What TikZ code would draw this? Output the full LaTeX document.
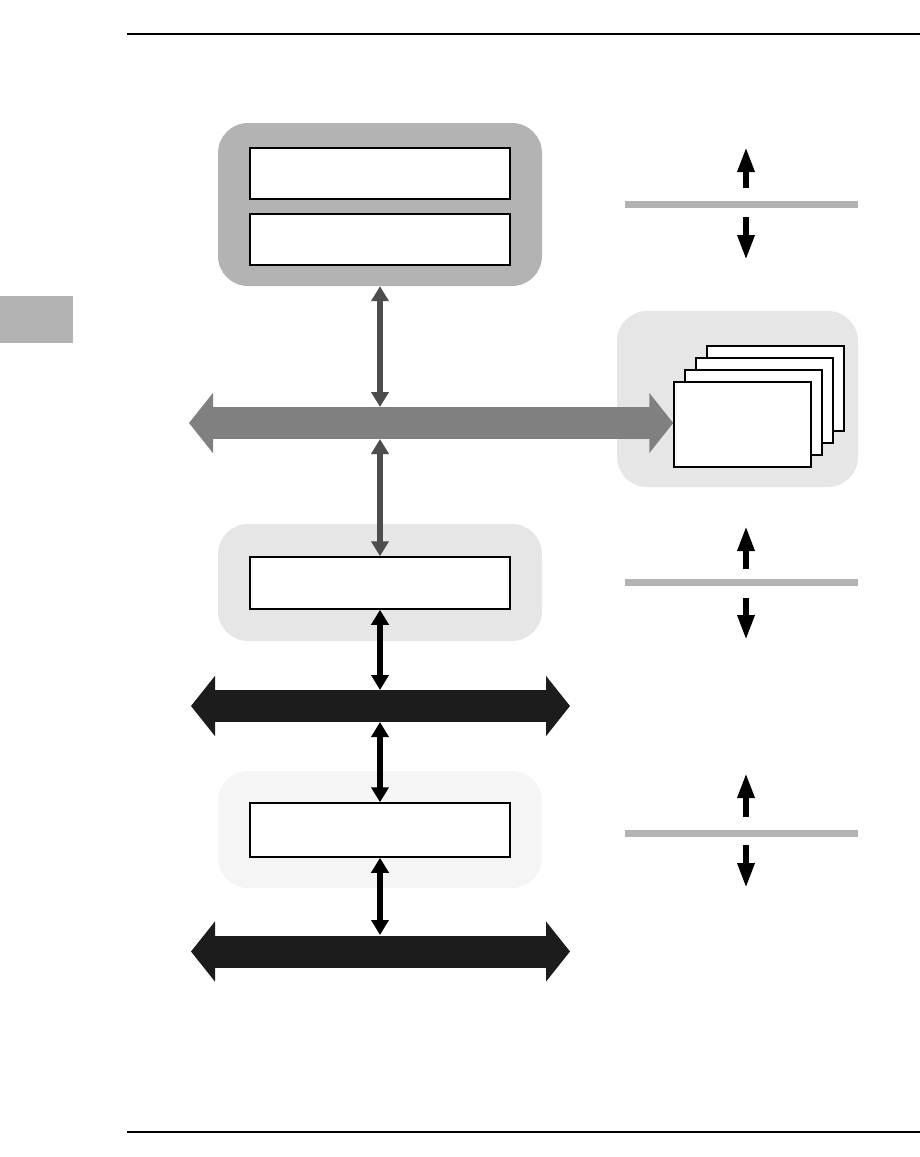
\documentclass[tikz,border=0pt]{standalone}
\usepackage[]{xcolor}
\usetikzlibrary{positioning,arrows.meta}
\definecolor{panelDark}{HTML}{B3B3B3}
\definecolor{panelLight}{HTML}{E6E6E6}
\definecolor{panelPale}{HTML}{F5F5F5}
\definecolor{busGray}{HTML}{808080}
\definecolor{linkGray}{HTML}{4D4D4D}
\definecolor{busBlack}{HTML}{1C1C1C}
\tikzset{panel/.style={rounded corners=30pt,minimum width=324pt,minimum height=117pt,inner sep=0pt},
  unitbox/.style={draw,fill=white,line width=1.5pt,minimum width=260pt,minimum height=52pt,inner sep=0pt},
  pagebox/.style={draw,fill=white,line width=1.5pt,minimum width=137pt,minimum height=85pt,inner sep=0pt},
  bus/.style={line width=32pt,{Triangle[width=59pt,length=24pt]}-{Triangle[width=59pt,length=24pt]}},
  link/.style={line width=6pt,{Triangle[width=17pt,length=15pt]}-{Triangle[width=17pt,length=15pt]}},
  levelarrow/.style={line width=6pt,-{Triangle[width=16pt,length=25pt]}},
  levelbar/.style={draw=panelDark,line width=7pt}
}

\begin{document}
\begin{tikzpicture}[x=1pt,y=-1pt]
  \useasboundingbox (0,0) rectangle (920,1157);

  % Page frame
  \draw[line width=1.5pt] (127,34) -- (920,34);
  \draw[line width=1.5pt] (127,1132) -- (920,1132);
  \fill[panelDark] (0,296) rectangle (73,343);

  % Panels
    \node[panel, fill=panelDark, minimum height=163pt] (p1) at (380,204.5) {};
    \node[panel, fill=panelLight] (p2) at (380,582.5) {};
    \node[panel, fill=panelPale] (p3) at (380,829.5) {};
    \node[panel, fill=panelLight, minimum width=241pt, minimum height=176pt] (p4) at (737.5,399) {};

  % Units
    \node[unitbox, minimum height=51pt] (u1) at (380,173.5) {};
    \node[unitbox, minimum height=51pt] (u2) at (380,239.5) {};
    \node[unitbox] (u3) at (380,583) {};
    \node[unitbox, minimum height=54pt] (u4) at (380,830) {};

  % Stacked pages
    \foreach \k in {3,2,1,0}
      \node[pagebox] (pg\k) at (742.5+11*\k,424.5-12*\k) {};

  % Buses
    \coordinate (b1w) at (189,423);
    \coordinate (b1e) at (b1w -| pg0.west);
    \coordinate (b1n) at (380,407);
    \coordinate (b1s) at (380,439);
    \coordinate (b2w) at (191,706);
    \coordinate (b2e) at (570,706);
    \coordinate (b2n) at (380,690);
    \coordinate (b2s) at (380,722);
    \coordinate (b3w) at (191,951.5);
    \coordinate (b3e) at (570,951.5);
    \coordinate (b3n) at (380,935);
    \draw[bus, busGray] (b1w) -- (b1e);
    \draw[bus, busBlack] (b2w) -- (b2e);
    \draw[bus, busBlack] (b3w) -- (b3e);

  % Links to buses
    \draw[link, linkGray] (p1.south) -- (b1n);
    \draw[link, linkGray] (b1s) -- (u3.north);
    \draw[link, black] (u3.south) -- (b2n);
    \draw[link, black] (b2s) -- (u4.north);
    \draw[link, black] (u4.south) -- (b3n);

  % Level markers
    \foreach \y/\ua/\ub/\da/\db in {204.5/188/147/217/260, 582/569/526/598/640, 833/817/773/845/888}{
      \draw[levelbar] (625,\y) -- (858,\y);
      \draw[levelarrow] (746,\ua) -- (746,\ub);
      \draw[levelarrow] (746,\da) -- (746,\db);
    }

  \end{tikzpicture}
\end{document}
